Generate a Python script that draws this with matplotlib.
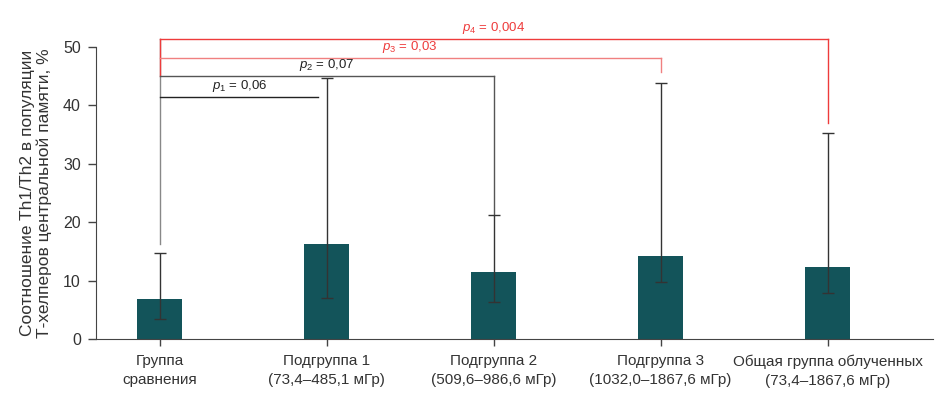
import matplotlib
matplotlib.use("Agg")
import matplotlib.pyplot as plt
import numpy as np

categories = ["Группа\nсравнения", "Подгруппа 1\n(73,4–485,1 мГр)", "Подгруппа 2\n(509,6–986,6 мГр)",
              "Подгруппа 3\n(1032,0–1867,6 мГр)", "Общая группа облученных\n(73,4–1867,6 мГр)"]
values = [6.9, 16.3, 11.4, 14.2, 12.4]
err_low = [3.4, 7.1, 6.3, 9.7, 7.8]
err_high = [14.7, 44.7, 21.3, 43.8, 35.3]
yticks = [0, 10, 20, 30, 40, 50]

# brackets: (from idx, to idx, level, right-end drop level, label sub, label value, color)
brackets = [
    (0, 1, 41.5, None, "1", "0,06", "#222222"),
    (0, 2, 45.0, 21.3, "2", "0,07", "#555555"),
    (0, 3, 48.2, 45.8, "3", "0,03", "#f08080"),
    (0, 4, 51.4, 37.0, "4", "0,004", "#ee3b3b"),
]

plt.rcParams['font.family'] = ['Liberation Sans Narrow', 'Liberation Sans', 'DejaVu Sans']
plt.rcParams['mathtext.fontset'] = 'custom'
plt.rcParams['mathtext.it'] = 'Liberation Sans:italic'
plt.rcParams['mathtext.rm'] = 'Liberation Sans'

txt = "#333333"
fig = plt.figure(figsize=(9.36, 3.97), dpi=100)
ax = fig.add_axes([0.1026, 0.1461, 0.894, 0.7355])

x = np.arange(len(categories))
ax.bar(x, values, width=0.27, color="#13545a", zorder=2)
yerr = [np.array(values) - np.array(err_low), np.array(err_high) - np.array(values)]
ax.errorbar(x, values, yerr=yerr, fmt='none', ecolor="#333333", elinewidth=1, capsize=4, capthick=1, zorder=3)

ax.set_xlim(-0.38, 4.63)
ax.set_ylim(0, 50)
ax.set_yticks(yticks)
ax.set_xticks(x)
ax.set_xticklabels(categories, fontsize=11, linespacing=1.45, color=txt)
ax.tick_params(axis='y', labelsize=11.5, length=6, width=1, direction='out', pad=5, labelcolor=txt, color="#444444")
ax.tick_params(axis='x', length=5, width=1, direction='out', pad=6, color="#444444")
for s in ['top', 'right']:
    ax.spines[s].set_visible(False)
for s in ['left', 'bottom']:
    ax.spines[s].set_color("#444444")
ax.spines['left'].set_bounds(0, 50)
ax.set_ylabel("Соотношение Th1/Th2 в популяции\nТ-хелперов центральной памяти, %", fontsize=12.5,
              labelpad=8, color=txt, linespacing=1.1)

# left vertical of brackets
ax.plot([0, 0], [16.3, 51.4], color="#888888", lw=1, clip_on=False, zorder=1)
ax.plot([0, 0], [45.0, 51.4], color="#ee3b3b", lw=1, clip_on=False, zorder=1)

ends = {1: 0.95}
for i0, i1, lvl, drop, sub, val, col in brackets:
    xr = ends.get(i1, i1)
    ax.plot([i0, xr], [lvl, lvl], color=col, lw=1, clip_on=False, zorder=1)
    if drop is not None:
        ax.plot([xr, xr], [lvl, drop], color=col, lw=1, clip_on=False, zorder=1)
    xm = (i0 + i1) / 2
    if i1 == 1:
        xm = 0.48
    tcol = "#222222" if col in ("#222222", "#555555") else "#ee3b3b"
    ax.text(xm, lvl + 0.5, f"$p_{{{sub}}}$ = {val}", ha='center', va='bottom', fontsize=9.5,
            color=tcol, clip_on=False)

fig.savefig("out.png", dpi=100)
